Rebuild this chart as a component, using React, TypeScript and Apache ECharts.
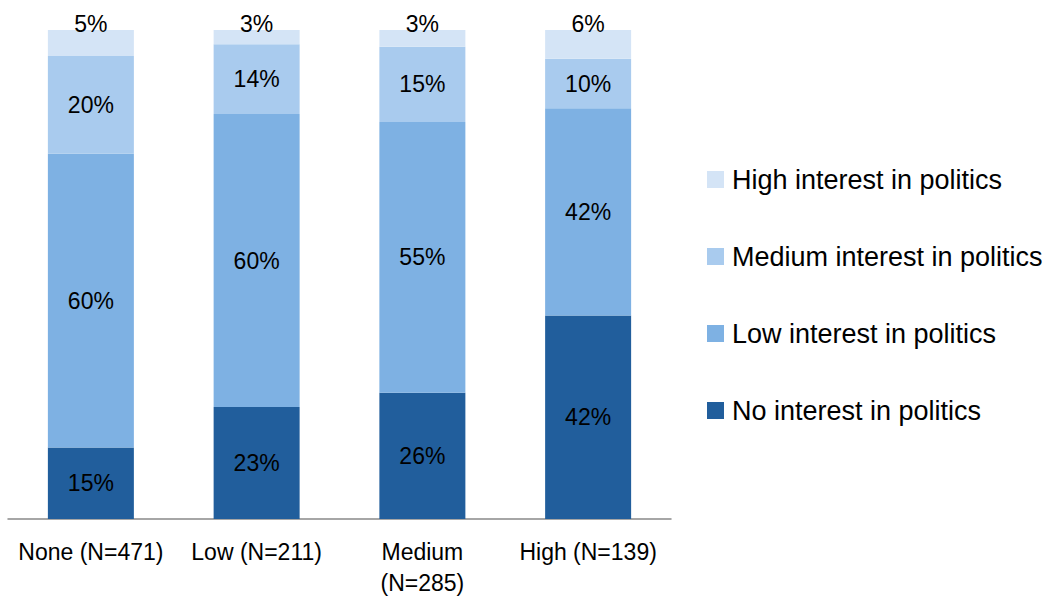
import React, { useEffect, useRef } from "react";
import * as echarts from "echarts";

// Interest-group categories along the x axis
const categories = ["None (N=471)", "Low (N=211)", "Medium\n(N=285)", "High (N=139)"];

// Percentage shares for each interest level, per category
const noInterest = [14.6, 22.9, 25.8, 41.6];
const lowInterest = [60.1, 59.9, 55.4, 42.4];
const mediumInterest = [20.0, 14.3, 15.4, 10.1];
const highInterest = [5.3, 2.9, 3.4, 5.9];

const seriesNames = [
  "No interest in politics",
  "Low interest in politics",
  "Medium interest in politics",
  "High interest in politics",
];
const colors = ["#215E9C", "#7EB1E3", "#A9CBEE", "#D4E4F6"];

const FONT = "Liberation Sans, Arial, sans-serif";

export default function App() {
  const ref = useRef<HTMLDivElement>(null);

  useEffect(() => {
    if (!ref.current) return;
    const chart = echarts.init(ref.current, undefined, { renderer: "svg" });
    const values = [noInterest, lowInterest, mediumInterest, highInterest];
    const fmt = (p: any) => `${Math.round(p.value)}%`;

    chart.setOption({
      animation: false,
      textStyle: { fontFamily: FONT },
      grid: { left: 8, right: 1055 - 671, top: 30, bottom: 600 - 519, containLabel: false },
      xAxis: {
        type: "category",
        data: categories,
        axisLine: { lineStyle: { color: "#898989", width: 1.5 } },
        axisTick: { show: false },
        axisLabel: {
          color: "#000",
          fontSize: 23,
          fontFamily: FONT,
          margin: 17,
          lineHeight: 31,
          interval: 0,
        },
      },
      yAxis: {
        type: "value",
        min: 0,
        max: 100,
        show: false,
        splitLine: { show: false },
      },
      legend: {
        orient: "vertical",
        left: 707,
        top: 166,
        padding: 0,
        itemWidth: 17,
        itemHeight: 17,
        itemGap: 50,
        icon: "rect",
        data: [seriesNames[3], seriesNames[2], seriesNames[1], seriesNames[0]],
        textStyle: {
          color: "#000",
          fontSize: 27,
          fontFamily: FONT,
          lineHeight: 27,
          padding: [0, 0, 0, 3],
        },
      },
      series: values.map((data, i) => ({
        type: "bar",
        name: seriesNames[i],
        stack: "total",
        data,
        barWidth: 86,
        itemStyle: { color: colors[i] },
        label: {
          show: true,
          position: i === 3 ? "top" : "inside",
          distance: i === 3 ? -5 : 5,
          color: "#000",
          fontSize: 23,
          fontFamily: FONT,
          formatter: fmt,
        },
      })),
    });

    return () => chart.dispose();
  }, []);

  return <div ref={ref} style={{ width: 1055, height: 600, position: "absolute", left: 0, top: 0 }} />;
}
